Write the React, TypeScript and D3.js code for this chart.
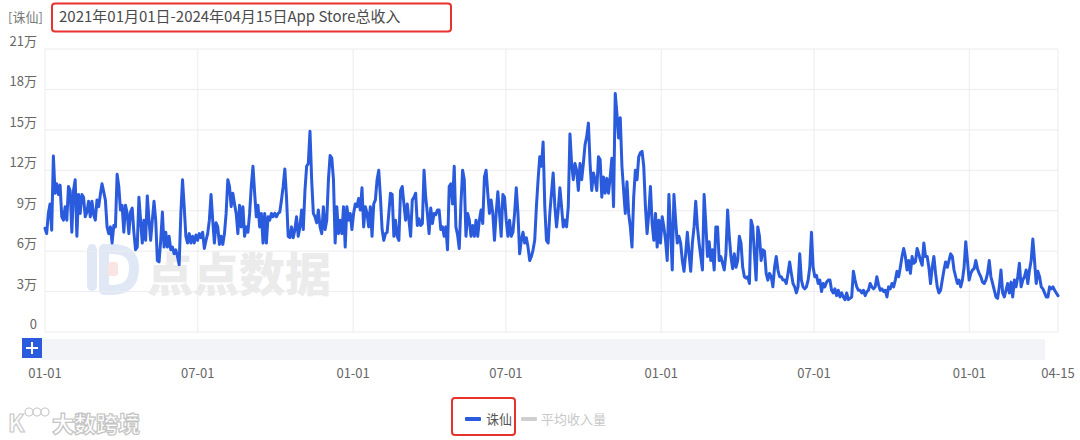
import React from "react";
import * as d3 from "d3";

// ---- data (revenue in 万, sampled along the line from 2021-01-01 to 2024-04-15) ----
const startDate = "2021-01-01";
const endDate = "2024-04-15";
const seriesName = "诛仙";
const avgSeriesName = "平均收入量";
const titlePrefix = "[诛仙]";
const titleText = "2021年01月01日-2024年04月15日App Store总收入";

const revenue2021 = [
  7.7, 7.3, 8.8, 9.5, 7.55, 13.06, 10.3, 11.0, 10.2, 10.9, 8.55, 8.3, 9.3, 8.3, 10.8, 10.5, 7.4, 10.5, 11.3, 7.1,
  10.2, 8.8, 10.2, 10.0, 8.55, 8.9, 9.7, 8.55, 9.7, 8.7, 8.3, 9.8, 9.3, 10.2, 11.0, 10.4, 9.8, 7.8, 7.3, 7.8,
  6.6, 7.9, 7.8, 11.7, 10.8, 9.05, 9.4, 7.4, 9.4, 8.8, 7.3, 8.9, 9.2, 7.4, 6.1, 6.3, 10.0, 8.3, 6.6, 8.3,
  6.8, 10.1, 8.3, 6.8, 8.3, 9.7, 8.3, 5.3, 5.2, 6.8, 8.9, 6.3, 7.4, 6.3, 7.1, 6.1, 6.3, 5.8, 6.1, 5.6,
  5.0, 8.8, 11.3, 9.3, 7.1, 6.6, 7.3, 6.6, 7.1, 6.6, 7.2, 6.8, 7.3, 7.0, 7.4, 6.2, 6.8, 7.3, 8.3, 10.2,
  8.3, 6.6, 8.1, 7.8, 6.5, 7.1, 6.5, 7.3, 8.8, 11.3, 10.8, 9.3, 10.3, 9.5, 8.8, 7.3, 9.4, 7.8, 9.3, 7.1,
  7.8, 7.4, 8.8, 10.8, 12.3, 10.3, 8.55, 9.4, 7.8, 8.8, 6.6, 8.8, 6.6, 8.55, 8.3, 8.8, 8.55, 8.8, 8.55, 8.8,
  8.9, 9.8, 10.8, 12.1, 10.0, 7.1, 7.0, 7.8, 7.0, 7.6, 8.55, 7.1, 7.8, 9.05, 7.6, 10.5, 12.3, 12.5, 14.9, 11.3,
  8.8, 8.55, 8.1, 9.05, 7.8, 7.3, 9.3, 7.6, 8.3, 11.3, 13.1, 12.9, 11.3, 6.6, 9.3, 7.3, 8.3, 7.3, 9.3, 6.3,
  9.3, 8.3, 8.8, 7.6, 8.8, 9.5, 9.3, 9.9, 9.05, 10.7, 7.8, 9.3, 8.8, 7.8, 9.3, 7.1, 9.5, 9.8, 11.3, 12.0,
];

const revenue2022 = [
  10.0, 7.6, 6.8, 7.3, 7.4, 8.8, 10.3, 10.2, 7.1, 8.3, 7.1, 6.8, 10.5, 10.8, 9.5, 8.3, 9.5, 8.3, 7.1, 9.8,
  10.0, 10.3, 7.9, 8.4, 7.9, 8.05, 12.0, 10.0, 8.8, 7.3, 9.2, 8.05, 8.8, 8.7, 9.05, 9.05, 7.6, 7.8, 7.1, 7.8,
  6.1, 10.8, 11.0, 9.5, 12.3, 7.8, 7.2, 6.2, 9.5, 12.0, 11.3, 7.1, 8.8, 8.3, 7.1, 7.9, 7.1, 8.3, 7.1, 8.3,
  9.05, 8.05, 11.5, 12.0, 10.3, 8.8, 9.8, 8.8, 6.8, 8.8, 10.4, 8.8, 7.1, 10.2, 10.0, 8.3, 7.1, 8.3, 7.1, 7.4,
  8.8, 10.7, 8.8, 5.8, 6.8, 7.4, 6.6, 7.0, 6.3, 5.3, 5.6, 6.1, 6.8, 9.3, 11.3, 13.0, 12.3, 14.1, 9.3, 6.8,
  6.6, 8.8, 10.3, 11.8, 9.3, 7.8, 9.05, 10.7, 9.3, 7.8, 8.3, 7.8, 9.3, 14.7, 12.5, 11.3, 12.5, 12.0, 10.5, 12.5,
  11.3, 12.5, 13.9, 14.5, 15.5, 12.5, 10.5, 11.8, 11.3, 10.5, 13.0, 12.8, 10.0, 11.5, 10.3, 11.4, 10.3, 11.5, 12.9, 9.3,
  17.7, 16.2, 14.4, 15.9, 12.3, 10.5, 8.8, 11.15, 8.8, 7.8, 6.3, 10.0, 12.0, 11.3, 13.0, 13.3, 13.4, 12.3, 9.3, 7.3,
  8.8, 10.8, 8.05, 6.8, 8.8, 6.3, 8.3, 6.6, 8.55, 7.8, 6.8, 5.3, 10.2, 7.6, 4.6, 10.2, 8.3, 6.6, 7.1, 6.6,
  5.3, 4.5, 5.8, 7.4, 5.8, 4.5, 6.6, 7.8, 9.7, 7.8, 6.6, 5.6, 4.6, 10.2, 8.05, 5.6, 6.7, 5.3, 6.1, 4.6,
  7.8, 7.8,
];

const revenue2023 = [
  5.3, 5.6, 5.1, 4.6, 5.8, 9.05, 7.1, 5.6, 4.7, 5.8, 4.8, 5.3, 7.1, 6.6, 4.8, 4.1, 4.0, 4.1, 3.6, 8.3,
  7.8, 5.8, 3.85, 7.8, 7.1, 5.3, 6.1, 6.0, 4.35, 3.85, 4.35, 4.1, 3.35, 4.8, 5.6, 4.6, 4.1, 4.1, 3.85, 3.85,
  3.6, 4.35, 5.2, 4.35, 3.6, 3.35, 2.9, 3.35, 5.8, 3.85, 3.35, 3.2, 3.35, 3.85, 4.8, 7.4, 4.8, 4.1, 4.2, 3.6,
  3.85, 3.0, 3.6, 3.35, 3.7, 3.85, 3.85, 3.1, 2.9, 3.2, 2.7, 3.1, 2.6, 2.9, 2.6, 2.4, 2.9, 2.4, 2.5, 2.6,
  4.5, 3.85, 3.35, 3.1, 3.1, 2.9, 3.1, 2.7, 3.0, 3.1, 3.6, 3.35, 3.2, 3.35, 4.1, 3.5, 3.1, 3.2, 3.0, 3.1,
  2.6, 3.35, 3.2, 3.6, 3.35, 3.85, 4.5, 4.1, 4.8, 5.6, 6.2, 5.6, 4.6, 5.3, 4.35, 5.6, 5.1, 5.2, 6.2, 5.8,
  5.3, 4.95, 6.6, 5.6, 5.6, 4.8, 3.6, 4.8, 5.6, 4.35, 3.35, 2.9, 3.1, 3.85, 4.6, 5.2, 4.8, 5.3, 5.8, 5.6,
  4.6, 4.1, 3.6, 3.85, 3.35, 3.85, 4.8, 6.7, 5.3, 3.85, 4.35, 4.6, 4.7, 5.3, 4.7, 4.35, 4.1, 3.7, 3.6, 3.85,
  4.35, 5.3, 4.1, 3.6, 3.1, 2.6, 2.5, 3.35, 4.6, 2.9, 2.6, 3.1, 3.6, 2.9, 3.7, 2.6, 3.85, 3.35, 4.1, 5.1,
  3.35, 3.85, 4.1, 4.6, 3.6, 4.6, 5.3, 6.9, 5.3, 3.6, 4.5, 4.1, 3.35, 3.2, 2.9, 2.6, 2.6, 3.35, 3.2, 3.35,
  3.1, 2.9, 2.7,
];

const revenue = [...revenue2021, ...revenue2022, ...revenue2023];

const yTicks = [0, 3, 6, 9, 12, 15, 18, 21];
const xTickDates = ["2021-01-01", "2021-07-01", "2022-01-01", "2022-07-01", "2023-01-01", "2023-07-01", "2024-01-01", "2024-04-15"];

// ---- layout ----
const W = 1080;
const H = 440;
const plot = { left: 45, right: 1058, top: 49, bottom: 332 };
const BLUE = "#2a5bdc";
const FONT = "'Noto Sans CJK SC', 'Noto Sans', sans-serif";

export default function App() {
  const parse = d3.utcParse("%Y-%m-%d");
  const t0 = parse(startDate)!;
  const t1 = parse(endDate)!;
  const x = d3.scaleUtc().domain([t0, t1]).range([plot.left, plot.right]);
  const y = d3.scaleLinear().domain([0, 21]).range([plot.bottom, plot.top]);

  const n = revenue.length;
  const span = t1.getTime() - t0.getTime();
  const pts: [Date, number][] = revenue.map((v, i) => [new Date(t0.getTime() + (span * i) / (n - 1)), v]);
  const line = d3
    .line<[Date, number]>()
    .x((d) => x(d[0]))
    .y((d) => y(d[1]));

  const fmt = d3.utcFormat("%m-%d");
  const xTicks = xTickDates.map((s) => parse(s)!);

  return (
    <svg
      width={W}
      height={H}
      style={{ position: "absolute", left: 0, top: 0, background: "#fff", fontFamily: FONT }}
    >
      {/* title */}
      <text x={8} y={22} fontSize={13} fill="#7a7a7a">{titlePrefix}</text>
      <text x={59} y={22} fontSize={15} fill="#4a4a4a">{titleText}</text>
      <rect x={52} y={3.5} width={399} height={28} rx={3} fill="none" stroke="#e8322e" strokeWidth={2} />

      {/* watermark */}
      <g opacity={0.9}>
        <path
          d="M92,250 L92,286 M104,249 L112,249 Q134,249 134,268 Q134,290 112,290 L104,290 Z"
          fill="none"
          stroke="#dde6f6"
          strokeWidth={10}
          strokeLinejoin="round"
          strokeLinecap="round"
        />
        <circle cx={92} cy={248} r={4} fill="#dde6f6" />
        <rect x={108} y={262} width={10} height={14} rx={3} fill="#fbe3e0" />
        <text x={147} y={291} fontSize={46} fontWeight={900} fill="#e9e9e9" letterSpacing={0}>点点数据</text>
      </g>

      {/* grid */}
      {yTicks.map((t) => (
        <line key={"gy" + t} x1={plot.left} x2={plot.right} y1={y(t)} y2={y(t)} stroke="#ececf0" strokeWidth={1} />
      ))}
      {[...xTicks.slice(0, -1), t1].map((t, i) => (
        <line key={"gx" + i} x1={x(t)} x2={x(t)} y1={plot.top} y2={plot.bottom} stroke="#ececf0" strokeWidth={1} />
      ))}

      {/* y labels */}
      {yTicks.map((t) => (
        <text key={"yl" + t} x={37} y={y(t) - 3} fontSize={13} fill="#666" textAnchor="end">
          {t === 0 ? "0" : `${t}万`}
        </text>
      ))}

      {/* series line */}
      <path d={line(pts) || ""} fill="none" stroke={BLUE} strokeWidth={3} strokeLinejoin="round" strokeLinecap="round" />

      {/* data zoom slider */}
      <rect x={42} y={339} width={1003} height={21} fill="#f3f4f7" />
      <rect x={22} y={338} width={20} height={20} fill={BLUE} />
      <line x1={32} x2={32} y1={342} y2={354} stroke="#fff" strokeWidth={2} />
      <line x1={26} x2={38} y1={348} y2={348} stroke="#fff" strokeWidth={2} />

      {/* x labels */}
      {xTicks.map((t, i) => (
        <text key={"xl" + i} x={x(t)} y={378} fontSize={13} fill="#666" textAnchor="middle">
          {fmt(t)}
        </text>
      ))}

      {/* legend */}
      <rect x={465} y={417} width={16} height={4} rx={1} fill={BLUE} />
      <text x={486} y={424} fontSize={13} fill="#555">{seriesName}</text>
      <rect x={452} y={398} width={63} height={37} rx={3} fill="none" stroke="#e8322e" strokeWidth={2} />
      <rect x={521} y={417} width={16} height={4} rx={1} fill="#cfcfcf" />
      <text x={541} y={424} fontSize={13} fill="#c8c8c8">{avgSeriesName}</text>

      {/* bottom-left watermark */}
      <g>
        <text x={8} y={432} fontSize={24} fontWeight={700} fill="#fff" stroke="#c9c9c9" strokeWidth={1.2}>K</text>
        <circle cx={29} cy={412} r={4} fill="#fff" stroke="#c9c9c9" strokeWidth={1.2} />
        <circle cx={37} cy={412} r={4} fill="#fff" stroke="#c9c9c9" strokeWidth={1.2} />
        <circle cx={45} cy={412} r={4} fill="#fff" stroke="#c9c9c9" strokeWidth={1.2} />
        <text x={52} y={432} fontSize={22} fontWeight={900} fill="#fff" stroke="#c4c4c4" strokeWidth={1.2}>大数跨境</text>
      </g>
    </svg>
  );
}
